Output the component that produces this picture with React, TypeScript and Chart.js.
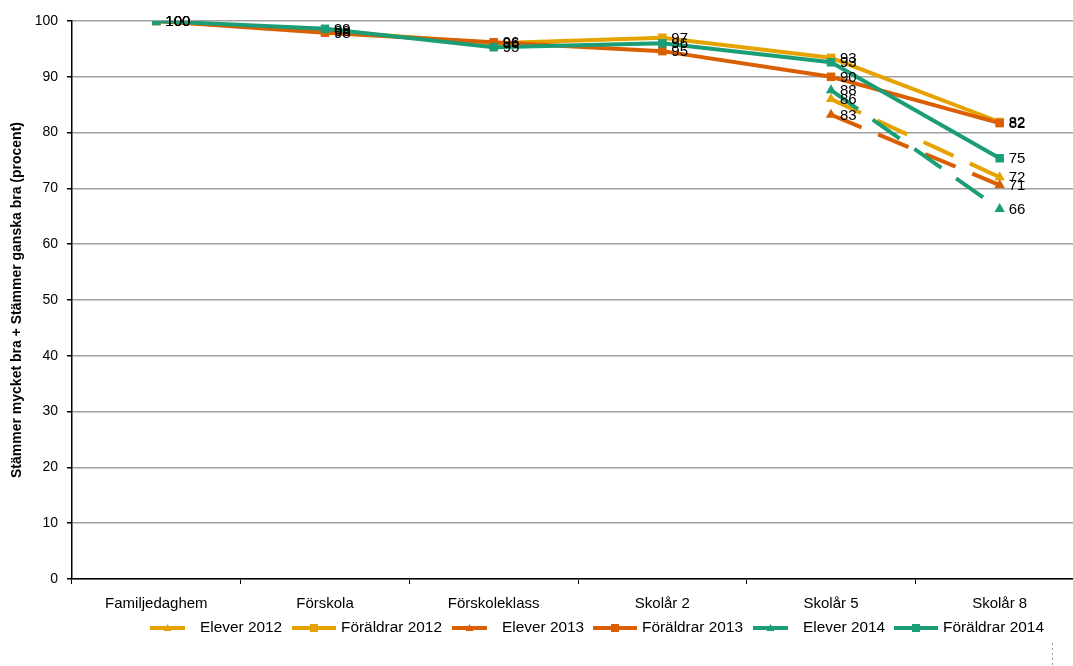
import React, { useEffect, useRef } from "react";
import { Chart, registerables } from "chart.js";

Chart.register(...registerables);

const categories = ["Familjedaghem", "Förskola", "Förskoleklass", "Skolår 2", "Skolår 5", "Skolår 8"];
const elever2012 = [null, null, null, null, 86.0, 72.0];
const foraldrar2012 = [100, 98.2, 96.0, 97.0, 93.4, 81.9];
const elever2013 = [null, null, null, null, 83.2, 70.6];
const foraldrar2013 = [100, 97.9, 96.2, 94.6, 90.0, 81.7];
const elever2014 = [null, null, null, null, 87.6, 66.3];
const foraldrar2014 = [100, 98.6, 95.3, 96.0, 92.6, 75.4];
const yTicks = [0, 10, 20, 30, 40, 50, 60, 70, 80, 90, 100];
const yTitle = "Stämmer mycket bra + Stämmer ganska bra (procent)";

const YELLOW = "#E6A300";
const ORANGE = "#D95F02";
const TEAL = "#1B9E77";
const FONT = 'Arial, "Liberation Sans", sans-serif';

const seriesDefs = [
  { label: "Elever 2012", data: elever2012, color: YELLOW, elever: true },
  { label: "Föräldrar 2012", data: foraldrar2012, color: YELLOW, elever: false },
  { label: "Elever 2013", data: elever2013, color: ORANGE, elever: true },
  { label: "Föräldrar 2013", data: foraldrar2013, color: ORANGE, elever: false },
  { label: "Elever 2014", data: elever2014, color: TEAL, elever: true },
  { label: "Föräldrar 2014", data: foraldrar2014, color: TEAL, elever: false },
];

const legendStarts = [150, 292, 452, 593, 753, 894];

const labelsPlugin = {
  id: "customLabelsLegend",
  afterDatasetsDraw(chart: any) {
    const ctx = chart.ctx;
    ctx.save();
    ctx.font = `15px ${FONT}`;
    ctx.fillStyle = "#000";
    ctx.textAlign = "left";
    ctx.textBaseline = "middle";
    chart.data.datasets.forEach((ds: any, i: number) => {
      const meta = chart.getDatasetMeta(i);
      meta.data.forEach((pt: any, j: number) => {
        const v = ds.data[j];
        if (v === null || v === undefined) return;
        ctx.fillText(String(Math.round(v)), pt.x + 9, pt.y + 1);
      });
    });
    ctx.restore();
  },
  afterDraw(chart: any) {
    const ctx = chart.ctx;
    ctx.save();
    ctx.font = `15.4px ${FONT}`;
    ctx.textBaseline = "middle";
    ctx.textAlign = "left";
    const yc = 628;
    seriesDefs.forEach((s, i) => {
      const x = legendStarts[i];
      const sw = s.elever ? 35 : 44;
      const tx = s.elever ? 50 : 49;
      ctx.strokeStyle = s.color;
      ctx.fillStyle = s.color;
      ctx.lineWidth = 4;
      ctx.lineCap = "butt";
      ctx.beginPath();
      ctx.moveTo(x, yc);
      ctx.lineTo(x + sw, yc);
      ctx.stroke();
      const mx = x + sw / 2;
      if (s.elever) {
        ctx.beginPath();
        ctx.moveTo(mx, yc - 4);
        ctx.lineTo(mx + 4, yc + 3);
        ctx.lineTo(mx - 4, yc + 3);
        ctx.closePath();
        ctx.fill();
      } else {
        ctx.fillRect(mx - 4, yc - 4, 8, 8);
      }
      ctx.fillStyle = "#000";
      ctx.fillText(s.label, x + tx, yc);
    });
    // small dotted border remnant at bottom right
    ctx.strokeStyle = "#9a9a9a";
    ctx.lineWidth = 1;
    ctx.setLineDash([2, 3]);
    ctx.beginPath();
    ctx.moveTo(1052.5, 643);
    ctx.lineTo(1052.5, 666);
    ctx.stroke();
    ctx.restore();
  },
};

export default function App() {
  const ref = useRef<HTMLCanvasElement>(null);
  useEffect(() => {
    if (!ref.current) return;
    const datasets = seriesDefs.map((s, i) => ({
      label: s.label,
      data: s.data,
      borderColor: s.color,
      backgroundColor: s.color,
      borderWidth: 4,
      borderDash: s.elever ? [33, 18] : [],
      borderCapStyle: "butt" as const,
      pointStyle: s.elever ? "triangle" : "rect",
      pointRadius: 6,
      pointBorderWidth: 0,
      pointBackgroundColor: s.color,
      tension: 0,
      spanGaps: false,
      order: seriesDefs.length - i,
    }));
    const chart = new Chart(ref.current, {
      type: "line",
      data: { labels: categories, datasets },
      options: {
        responsive: false,
        animation: false,
        devicePixelRatio: 1,
        layout: { padding: { top: 21, right: 5, left: 0, bottom: 0 } },
        plugins: {
          legend: { display: false },
          tooltip: { enabled: false },
        },
        scales: {
          x: {
            type: "category",
            offset: true,
            grid: {
              offset: true,
              drawOnChartArea: false,
              drawTicks: true,
              tickLength: 5,
              color: "#000",
              tickColor: "#000",
            },
            border: { color: "#000", width: 1.5 },
            ticks: {
              color: "#000",
              font: { family: FONT, size: 15 },
              padding: 11,
              maxRotation: 0,
              autoSkip: false,
            },
            afterFit(scale: any) {
              scale.height = 87;
            },
          },
          y: {
            min: 0,
            max: 100,
            afterBuildTicks(scale: any) {
              scale.ticks = yTicks.map((v) => ({ value: v }));
            },
            grid: {
              color: "#A0A0A0",
              lineWidth: 1.5,
              tickLength: 5,
              tickColor: "#000",
            },
            border: { color: "#000", width: 1.5 },
            ticks: {
              color: "#000",
              font: { family: FONT, size: 14 },
              padding: 9,
            },
            title: {
              display: true,
              text: yTitle,
              color: "#000",
              font: { family: FONT, size: 14, weight: "bold" },
              padding: 9,
            },
            afterFit(scale: any) {
              scale.width = 72;
            },
          },
        },
      },
      plugins: [labelsPlugin],
    });
    return () => chart.destroy();
  }, []);
  return (
    <div style={{ position: "fixed", left: 0, top: 0, width: 1073, height: 666, overflow: "hidden", background: "#fff" }}>
      <canvas ref={ref} width={1090} height={666} style={{ width: 1090, height: 666, display: "block" }} />
    </div>
  );
}
